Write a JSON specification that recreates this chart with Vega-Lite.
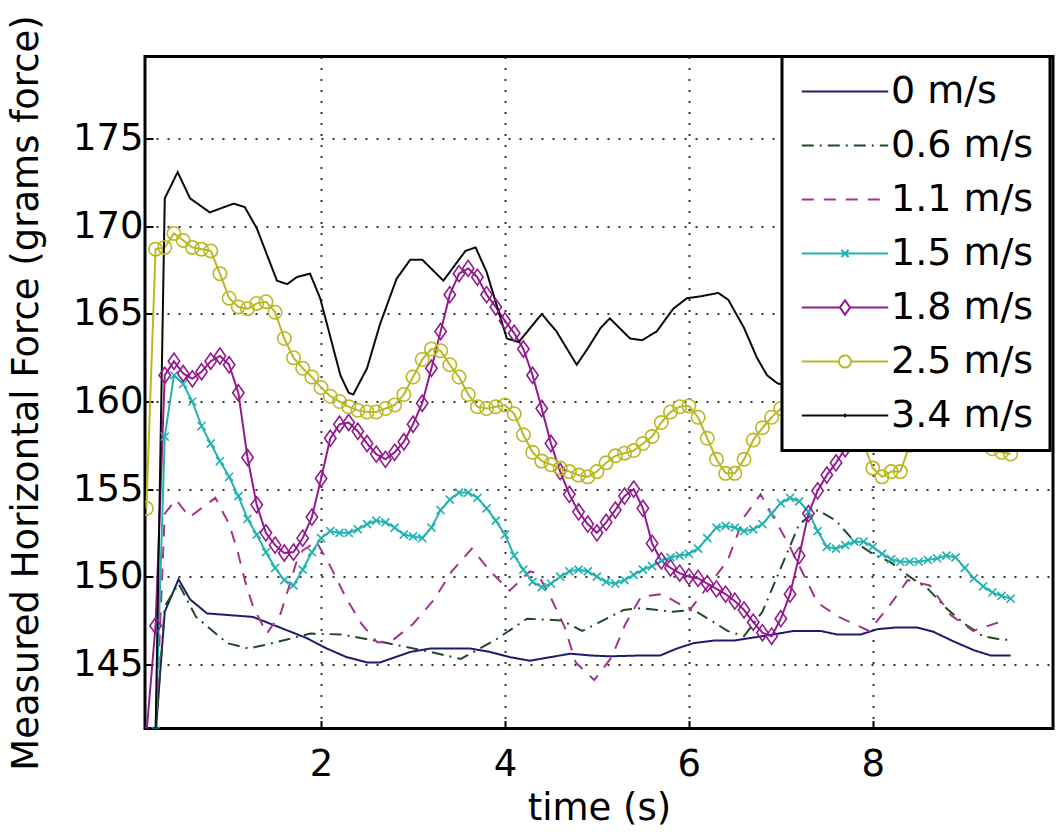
{
"$schema": "https://vega.github.io/schema/vega-lite/v6.json",
"width": 908, "height": 672,
"autosize": "none",
"padding": {"left": 145, "top": 56.5, "right": 9, "bottom": 105.5},
"background": "#ffffff",
"config": {
  "view": {"stroke": "#000000", "strokeWidth": 3},
  "font": "DejaVu Sans",
  "axis": {"labelFont": "DejaVu Sans", "titleFont": "DejaVu Sans", "labelFontSize": 37, "titleFontSize": 37, "titleFontWeight": "normal", "labelColor": "#000000", "titleColor": "#000000", "domain": false, "grid": true, "gridColor": "#333333", "gridDash": [2, 9], "gridWidth": 2, "gridOpacity": 1, "ticks": true, "tickSize": -8, "tickColor": "#000000", "tickWidth": 2}
},
"data": {"values": [
{"speed":"0 m/s","t":0.2,"f":141.0},{"speed":"0 m/s","t":0.3,"f":148.0},{"speed":"0 m/s","t":0.45,"f":149.85},{"speed":"0 m/s","t":0.575,"f":148.7},{"speed":"0 m/s","t":0.76,"f":147.9},{"speed":"0 m/s","t":1.01,"f":147.8},{"speed":"0 m/s","t":1.26,"f":147.7},{"speed":"0 m/s","t":1.55,"f":147.1},{"speed":"0 m/s","t":1.84,"f":146.5},{"speed":"0 m/s","t":2.06,"f":145.9},{"speed":"0 m/s","t":2.28,"f":145.4},{"speed":"0 m/s","t":2.5,"f":145.1},{"speed":"0 m/s","t":2.64,"f":145.1},{"speed":"0 m/s","t":2.75,"f":145.3},{"speed":"0 m/s","t":2.97,"f":145.7},{"speed":"0 m/s","t":3.19,"f":145.9},{"speed":"0 m/s","t":3.4,"f":145.9},{"speed":"0 m/s","t":3.62,"f":145.9},{"speed":"0 m/s","t":3.84,"f":145.7},{"speed":"0 m/s","t":4.06,"f":145.4},{"speed":"0 m/s","t":4.27,"f":145.2},{"speed":"0 m/s","t":4.49,"f":145.4},{"speed":"0 m/s","t":4.71,"f":145.6},{"speed":"0 m/s","t":4.93,"f":145.5},{"speed":"0 m/s","t":5.14,"f":145.45},{"speed":"0 m/s","t":5.47,"f":145.5},{"speed":"0 m/s","t":5.69,"f":145.5},{"speed":"0 m/s","t":5.87,"f":145.9},{"speed":"0 m/s","t":6.05,"f":146.2},{"speed":"0 m/s","t":6.27,"f":146.35},{"speed":"0 m/s","t":6.49,"f":146.35},{"speed":"0 m/s","t":6.67,"f":146.5},{"speed":"0 m/s","t":6.92,"f":146.7},{"speed":"0 m/s","t":7.14,"f":146.9},{"speed":"0 m/s","t":7.43,"f":146.9},{"speed":"0 m/s","t":7.61,"f":146.7},{"speed":"0 m/s","t":7.87,"f":146.7},{"speed":"0 m/s","t":8.05,"f":147.0},{"speed":"0 m/s","t":8.26,"f":147.1},{"speed":"0 m/s","t":8.48,"f":147.1},{"speed":"0 m/s","t":8.66,"f":146.85},{"speed":"0 m/s","t":8.88,"f":146.3},{"speed":"0 m/s","t":9.1,"f":145.8},{"speed":"0 m/s","t":9.28,"f":145.5},{"speed":"0 m/s","t":9.5,"f":145.5},
{"speed":"0.6 m/s","t":0.2,"f":141.0},{"speed":"0.6 m/s","t":0.3,"f":148.3},{"speed":"0.6 m/s","t":0.45,"f":149.6},{"speed":"0.6 m/s","t":0.64,"f":147.7},{"speed":"0.6 m/s","t":0.98,"f":146.2},{"speed":"0.6 m/s","t":1.21,"f":145.9},{"speed":"0.6 m/s","t":1.39,"f":146.1},{"speed":"0.6 m/s","t":1.62,"f":146.4},{"speed":"0.6 m/s","t":1.88,"f":146.75},{"speed":"0.6 m/s","t":2.22,"f":146.7},{"speed":"0.6 m/s","t":2.63,"f":146.3},{"speed":"0.6 m/s","t":3.19,"f":145.7},{"speed":"0.6 m/s","t":3.52,"f":145.3},{"speed":"0.6 m/s","t":3.9,"f":146.4},{"speed":"0.6 m/s","t":4.24,"f":147.6},{"speed":"0.6 m/s","t":4.62,"f":147.5},{"speed":"0.6 m/s","t":4.84,"f":146.9},{"speed":"0.6 m/s","t":5.03,"f":147.4},{"speed":"0.6 m/s","t":5.29,"f":148.1},{"speed":"0.6 m/s","t":5.48,"f":148.2},{"speed":"0.6 m/s","t":5.82,"f":148.0},{"speed":"0.6 m/s","t":6.05,"f":148.1},{"speed":"0.6 m/s","t":6.27,"f":147.4},{"speed":"0.6 m/s","t":6.42,"f":146.9},{"speed":"0.6 m/s","t":6.6,"f":146.6},{"speed":"0.6 m/s","t":6.8,"f":148.0},{"speed":"0.6 m/s","t":7.0,"f":150.5},{"speed":"0.6 m/s","t":7.2,"f":153.0},{"speed":"0.6 m/s","t":7.4,"f":153.8},{"speed":"0.6 m/s","t":7.6,"f":153.2},{"speed":"0.6 m/s","t":7.8,"f":152.0},{"speed":"0.6 m/s","t":8.0,"f":151.3},{"speed":"0.6 m/s","t":8.2,"f":150.8},{"speed":"0.6 m/s","t":8.4,"f":150.0},{"speed":"0.6 m/s","t":8.6,"f":149.3},{"speed":"0.6 m/s","t":8.8,"f":148.2},{"speed":"0.6 m/s","t":9.0,"f":147.3},{"speed":"0.6 m/s","t":9.2,"f":146.6},{"speed":"0.6 m/s","t":9.4,"f":146.4},{"speed":"0.6 m/s","t":9.5,"f":146.4},
{"speed":"1.1 m/s","t":0.2,"f":141.0},{"speed":"1.1 m/s","t":0.3,"f":153.6},{"speed":"1.1 m/s","t":0.42,"f":154.4},{"speed":"1.1 m/s","t":0.57,"f":153.4},{"speed":"1.1 m/s","t":0.85,"f":154.5},{"speed":"1.1 m/s","t":1.0,"f":153.0},{"speed":"1.1 m/s","t":1.09,"f":151.5},{"speed":"1.1 m/s","t":1.17,"f":149.8},{"speed":"1.1 m/s","t":1.26,"f":148.3},{"speed":"1.1 m/s","t":1.41,"f":146.75},{"speed":"1.1 m/s","t":1.56,"f":147.9},{"speed":"1.1 m/s","t":1.65,"f":149.4},{"speed":"1.1 m/s","t":1.73,"f":150.8},{"speed":"1.1 m/s","t":1.8,"f":151.5},{"speed":"1.1 m/s","t":1.95,"f":152.0},{"speed":"1.1 m/s","t":2.1,"f":150.6},{"speed":"1.1 m/s","t":2.27,"f":148.8},{"speed":"1.1 m/s","t":2.44,"f":147.3},{"speed":"1.1 m/s","t":2.61,"f":146.25},{"speed":"1.1 m/s","t":2.75,"f":146.25},{"speed":"1.1 m/s","t":3.0,"f":147.3},{"speed":"1.1 m/s","t":3.23,"f":148.7},{"speed":"1.1 m/s","t":3.42,"f":150.3},{"speed":"1.1 m/s","t":3.64,"f":151.6},{"speed":"1.1 m/s","t":3.84,"f":150.3},{"speed":"1.1 m/s","t":4.05,"f":149.2},{"speed":"1.1 m/s","t":4.27,"f":150.3},{"speed":"1.1 m/s","t":4.35,"f":150.2},{"speed":"1.1 m/s","t":4.49,"f":148.9},{"speed":"1.1 m/s","t":4.65,"f":147.1},{"speed":"1.1 m/s","t":4.77,"f":145.1},{"speed":"1.1 m/s","t":4.97,"f":144.1},{"speed":"1.1 m/s","t":5.16,"f":145.4},{"speed":"1.1 m/s","t":5.31,"f":147.3},{"speed":"1.1 m/s","t":5.48,"f":148.85},{"speed":"1.1 m/s","t":5.71,"f":149.0},{"speed":"1.1 m/s","t":6.01,"f":148.1},{"speed":"1.1 m/s","t":6.42,"f":150.9},{"speed":"1.1 m/s","t":6.6,"f":153.4},{"speed":"1.1 m/s","t":6.78,"f":154.7},{"speed":"1.1 m/s","t":7.08,"f":151.9},{"speed":"1.1 m/s","t":7.4,"f":148.5},{"speed":"1.1 m/s","t":7.63,"f":147.7},{"speed":"1.1 m/s","t":7.96,"f":146.9},{"speed":"1.1 m/s","t":8.19,"f":148.4},{"speed":"1.1 m/s","t":8.38,"f":149.8},{"speed":"1.1 m/s","t":8.62,"f":149.5},{"speed":"1.1 m/s","t":8.85,"f":147.8},{"speed":"1.1 m/s","t":9.09,"f":146.9},{"speed":"1.1 m/s","t":9.43,"f":147.5},
{"speed":"1.5 m/s","t":0.1,"f":141.0},{"speed":"1.5 m/s","t":0.2,"f":141.2},{"speed":"1.5 m/s","t":0.3,"f":158.0},{"speed":"1.5 m/s","t":0.4,"f":161.5},{"speed":"1.5 m/s","t":0.5,"f":161.0},{"speed":"1.5 m/s","t":0.6,"f":160.0},{"speed":"1.5 m/s","t":0.7,"f":158.6},{"speed":"1.5 m/s","t":0.8,"f":157.6},{"speed":"1.5 m/s","t":0.9,"f":156.6},{"speed":"1.5 m/s","t":1.0,"f":155.7},{"speed":"1.5 m/s","t":1.1,"f":154.6},{"speed":"1.5 m/s","t":1.2,"f":153.3},{"speed":"1.5 m/s","t":1.3,"f":152.4},{"speed":"1.5 m/s","t":1.4,"f":151.4},{"speed":"1.5 m/s","t":1.5,"f":150.5},{"speed":"1.5 m/s","t":1.6,"f":149.8},{"speed":"1.5 m/s","t":1.7,"f":149.5},{"speed":"1.5 m/s","t":1.8,"f":150.4},{"speed":"1.5 m/s","t":1.9,"f":151.4},{"speed":"1.5 m/s","t":2.0,"f":152.2},{"speed":"1.5 m/s","t":2.1,"f":152.6},{"speed":"1.5 m/s","t":2.2,"f":152.5},{"speed":"1.5 m/s","t":2.3,"f":152.5},{"speed":"1.5 m/s","t":2.4,"f":152.7},{"speed":"1.5 m/s","t":2.5,"f":153.0},{"speed":"1.5 m/s","t":2.6,"f":153.2},{"speed":"1.5 m/s","t":2.7,"f":153.1},{"speed":"1.5 m/s","t":2.8,"f":152.8},{"speed":"1.5 m/s","t":2.9,"f":152.4},{"speed":"1.5 m/s","t":3.0,"f":152.3},{"speed":"1.5 m/s","t":3.1,"f":152.2},{"speed":"1.5 m/s","t":3.2,"f":152.8},{"speed":"1.5 m/s","t":3.3,"f":153.8},{"speed":"1.5 m/s","t":3.4,"f":154.4},{"speed":"1.5 m/s","t":3.5,"f":154.8},{"speed":"1.5 m/s","t":3.6,"f":154.8},{"speed":"1.5 m/s","t":3.7,"f":154.5},{"speed":"1.5 m/s","t":3.8,"f":153.9},{"speed":"1.5 m/s","t":3.9,"f":153.2},{"speed":"1.5 m/s","t":4.0,"f":152.4},{"speed":"1.5 m/s","t":4.1,"f":151.2},{"speed":"1.5 m/s","t":4.2,"f":150.4},{"speed":"1.5 m/s","t":4.3,"f":149.7},{"speed":"1.5 m/s","t":4.4,"f":149.4},{"speed":"1.5 m/s","t":4.5,"f":149.6},{"speed":"1.5 m/s","t":4.6,"f":150.0},{"speed":"1.5 m/s","t":4.7,"f":150.3},{"speed":"1.5 m/s","t":4.8,"f":150.4},{"speed":"1.5 m/s","t":4.9,"f":150.3},{"speed":"1.5 m/s","t":5.0,"f":150.0},{"speed":"1.5 m/s","t":5.1,"f":149.7},{"speed":"1.5 m/s","t":5.2,"f":149.6},{"speed":"1.5 m/s","t":5.3,"f":149.8},{"speed":"1.5 m/s","t":5.4,"f":150.1},{"speed":"1.5 m/s","t":5.5,"f":150.4},{"speed":"1.5 m/s","t":5.6,"f":150.6},{"speed":"1.5 m/s","t":5.7,"f":150.9},{"speed":"1.5 m/s","t":5.8,"f":151.1},{"speed":"1.5 m/s","t":5.9,"f":151.2},{"speed":"1.5 m/s","t":6.0,"f":151.3},{"speed":"1.5 m/s","t":6.1,"f":151.6},{"speed":"1.5 m/s","t":6.2,"f":152.2},{"speed":"1.5 m/s","t":6.3,"f":152.8},{"speed":"1.5 m/s","t":6.4,"f":152.9},{"speed":"1.5 m/s","t":6.5,"f":152.8},{"speed":"1.5 m/s","t":6.6,"f":152.6},{"speed":"1.5 m/s","t":6.7,"f":152.7},{"speed":"1.5 m/s","t":6.8,"f":153.0},{"speed":"1.5 m/s","t":6.9,"f":153.6},{"speed":"1.5 m/s","t":7.0,"f":154.2},{"speed":"1.5 m/s","t":7.1,"f":154.5},{"speed":"1.5 m/s","t":7.2,"f":154.3},{"speed":"1.5 m/s","t":7.3,"f":153.7},{"speed":"1.5 m/s","t":7.4,"f":152.6},{"speed":"1.5 m/s","t":7.5,"f":151.7},{"speed":"1.5 m/s","t":7.6,"f":151.6},{"speed":"1.5 m/s","t":7.7,"f":151.8},{"speed":"1.5 m/s","t":7.8,"f":152.0},{"speed":"1.5 m/s","t":7.9,"f":152.0},{"speed":"1.5 m/s","t":8.0,"f":151.7},{"speed":"1.5 m/s","t":8.1,"f":151.3},{"speed":"1.5 m/s","t":8.2,"f":151.0},{"speed":"1.5 m/s","t":8.3,"f":150.85},{"speed":"1.5 m/s","t":8.4,"f":150.85},{"speed":"1.5 m/s","t":8.5,"f":150.85},{"speed":"1.5 m/s","t":8.6,"f":150.95},{"speed":"1.5 m/s","t":8.7,"f":151.05},{"speed":"1.5 m/s","t":8.8,"f":151.2},{"speed":"1.5 m/s","t":8.9,"f":151.1},{"speed":"1.5 m/s","t":9.0,"f":150.5},{"speed":"1.5 m/s","t":9.1,"f":149.9},{"speed":"1.5 m/s","t":9.2,"f":149.45},{"speed":"1.5 m/s","t":9.3,"f":149.1},{"speed":"1.5 m/s","t":9.4,"f":148.9},{"speed":"1.5 m/s","t":9.5,"f":148.75},
{"speed":"1.8 m/s","t":0.1,"f":141.0},{"speed":"1.8 m/s","t":0.2,"f":147.2},{"speed":"1.8 m/s","t":0.3,"f":161.5},{"speed":"1.8 m/s","t":0.4,"f":162.3},{"speed":"1.8 m/s","t":0.5,"f":161.6},{"speed":"1.8 m/s","t":0.6,"f":161.3},{"speed":"1.8 m/s","t":0.7,"f":161.7},{"speed":"1.8 m/s","t":0.8,"f":162.3},{"speed":"1.8 m/s","t":0.9,"f":162.6},{"speed":"1.8 m/s","t":1.0,"f":162.1},{"speed":"1.8 m/s","t":1.1,"f":160.5},{"speed":"1.8 m/s","t":1.2,"f":156.8},{"speed":"1.8 m/s","t":1.3,"f":154.1},{"speed":"1.8 m/s","t":1.4,"f":152.5},{"speed":"1.8 m/s","t":1.5,"f":151.8},{"speed":"1.8 m/s","t":1.6,"f":151.35},{"speed":"1.8 m/s","t":1.7,"f":151.4},{"speed":"1.8 m/s","t":1.8,"f":152.2},{"speed":"1.8 m/s","t":1.9,"f":153.4},{"speed":"1.8 m/s","t":2.0,"f":155.6},{"speed":"1.8 m/s","t":2.1,"f":157.9},{"speed":"1.8 m/s","t":2.2,"f":158.7},{"speed":"1.8 m/s","t":2.3,"f":158.8},{"speed":"1.8 m/s","t":2.4,"f":158.3},{"speed":"1.8 m/s","t":2.5,"f":157.6},{"speed":"1.8 m/s","t":2.6,"f":157.0},{"speed":"1.8 m/s","t":2.7,"f":156.7},{"speed":"1.8 m/s","t":2.8,"f":157.1},{"speed":"1.8 m/s","t":2.9,"f":157.7},{"speed":"1.8 m/s","t":3.0,"f":158.7},{"speed":"1.8 m/s","t":3.1,"f":159.9},{"speed":"1.8 m/s","t":3.2,"f":161.9},{"speed":"1.8 m/s","t":3.3,"f":164.0},{"speed":"1.8 m/s","t":3.4,"f":166.1},{"speed":"1.8 m/s","t":3.5,"f":167.3},{"speed":"1.8 m/s","t":3.6,"f":167.6},{"speed":"1.8 m/s","t":3.7,"f":167.1},{"speed":"1.8 m/s","t":3.8,"f":166.1},{"speed":"1.8 m/s","t":3.9,"f":165.4},{"speed":"1.8 m/s","t":4.0,"f":164.6},{"speed":"1.8 m/s","t":4.1,"f":163.9},{"speed":"1.8 m/s","t":4.2,"f":163.0},{"speed":"1.8 m/s","t":4.3,"f":161.5},{"speed":"1.8 m/s","t":4.4,"f":159.6},{"speed":"1.8 m/s","t":4.5,"f":157.6},{"speed":"1.8 m/s","t":4.6,"f":156.0},{"speed":"1.8 m/s","t":4.7,"f":154.7},{"speed":"1.8 m/s","t":4.8,"f":153.7},{"speed":"1.8 m/s","t":4.9,"f":153.0},{"speed":"1.8 m/s","t":5.0,"f":152.5},{"speed":"1.8 m/s","t":5.1,"f":153.1},{"speed":"1.8 m/s","t":5.2,"f":153.8},{"speed":"1.8 m/s","t":5.3,"f":154.6},{"speed":"1.8 m/s","t":5.4,"f":155.0},{"speed":"1.8 m/s","t":5.5,"f":153.9},{"speed":"1.8 m/s","t":5.6,"f":151.9},{"speed":"1.8 m/s","t":5.7,"f":150.9},{"speed":"1.8 m/s","t":5.8,"f":150.5},{"speed":"1.8 m/s","t":5.9,"f":150.2},{"speed":"1.8 m/s","t":6.0,"f":150.0},{"speed":"1.8 m/s","t":6.1,"f":149.9},{"speed":"1.8 m/s","t":6.2,"f":149.6},{"speed":"1.8 m/s","t":6.3,"f":149.3},{"speed":"1.8 m/s","t":6.4,"f":149.0},{"speed":"1.8 m/s","t":6.5,"f":148.6},{"speed":"1.8 m/s","t":6.6,"f":148.1},{"speed":"1.8 m/s","t":6.7,"f":147.4},{"speed":"1.8 m/s","t":6.8,"f":146.8},{"speed":"1.8 m/s","t":6.9,"f":146.6},{"speed":"1.8 m/s","t":7.0,"f":147.6},{"speed":"1.8 m/s","t":7.1,"f":149.0},{"speed":"1.8 m/s","t":7.2,"f":151.2},{"speed":"1.8 m/s","t":7.3,"f":153.6},{"speed":"1.8 m/s","t":7.4,"f":154.9},{"speed":"1.8 m/s","t":7.5,"f":155.8},{"speed":"1.8 m/s","t":7.6,"f":156.5},{"speed":"1.8 m/s","t":7.7,"f":157.3},{"speed":"1.8 m/s","t":7.8,"f":158.5},{"speed":"1.8 m/s","t":7.9,"f":159.8},
{"speed":"2.5 m/s","t":0.1,"f":153.9},{"speed":"2.5 m/s","t":0.2,"f":168.7},{"speed":"2.5 m/s","t":0.3,"f":168.8},{"speed":"2.5 m/s","t":0.4,"f":169.6},{"speed":"2.5 m/s","t":0.5,"f":169.2},{"speed":"2.5 m/s","t":0.6,"f":168.8},{"speed":"2.5 m/s","t":0.7,"f":168.7},{"speed":"2.5 m/s","t":0.8,"f":168.6},{"speed":"2.5 m/s","t":0.9,"f":167.3},{"speed":"2.5 m/s","t":1.0,"f":165.9},{"speed":"2.5 m/s","t":1.1,"f":165.4},{"speed":"2.5 m/s","t":1.2,"f":165.3},{"speed":"2.5 m/s","t":1.3,"f":165.6},{"speed":"2.5 m/s","t":1.4,"f":165.7},{"speed":"2.5 m/s","t":1.5,"f":165.1},{"speed":"2.5 m/s","t":1.6,"f":163.6},{"speed":"2.5 m/s","t":1.7,"f":162.5},{"speed":"2.5 m/s","t":1.8,"f":161.9},{"speed":"2.5 m/s","t":1.9,"f":161.4},{"speed":"2.5 m/s","t":2.0,"f":160.8},{"speed":"2.5 m/s","t":2.1,"f":160.3},{"speed":"2.5 m/s","t":2.2,"f":160.0},{"speed":"2.5 m/s","t":2.3,"f":159.7},{"speed":"2.5 m/s","t":2.4,"f":159.5},{"speed":"2.5 m/s","t":2.5,"f":159.4},{"speed":"2.5 m/s","t":2.6,"f":159.4},{"speed":"2.5 m/s","t":2.7,"f":159.6},{"speed":"2.5 m/s","t":2.8,"f":159.8},{"speed":"2.5 m/s","t":2.9,"f":160.4},{"speed":"2.5 m/s","t":3.0,"f":161.4},{"speed":"2.5 m/s","t":3.1,"f":162.4},{"speed":"2.5 m/s","t":3.2,"f":163.0},{"speed":"2.5 m/s","t":3.3,"f":162.9},{"speed":"2.5 m/s","t":3.4,"f":162.1},{"speed":"2.5 m/s","t":3.5,"f":161.4},{"speed":"2.5 m/s","t":3.6,"f":160.4},{"speed":"2.5 m/s","t":3.7,"f":159.7},{"speed":"2.5 m/s","t":3.8,"f":159.6},{"speed":"2.5 m/s","t":3.9,"f":159.7},{"speed":"2.5 m/s","t":4.0,"f":159.8},{"speed":"2.5 m/s","t":4.1,"f":159.3},{"speed":"2.5 m/s","t":4.2,"f":158.1},{"speed":"2.5 m/s","t":4.3,"f":157.1},{"speed":"2.5 m/s","t":4.4,"f":156.6},{"speed":"2.5 m/s","t":4.5,"f":156.4},{"speed":"2.5 m/s","t":4.6,"f":156.2},{"speed":"2.5 m/s","t":4.7,"f":156.0},{"speed":"2.5 m/s","t":4.8,"f":155.8},{"speed":"2.5 m/s","t":4.9,"f":155.7},{"speed":"2.5 m/s","t":5.0,"f":156.0},{"speed":"2.5 m/s","t":5.1,"f":156.5},{"speed":"2.5 m/s","t":5.2,"f":156.9},{"speed":"2.5 m/s","t":5.3,"f":157.05},{"speed":"2.5 m/s","t":5.4,"f":157.2},{"speed":"2.5 m/s","t":5.5,"f":157.6},{"speed":"2.5 m/s","t":5.6,"f":158.0},{"speed":"2.5 m/s","t":5.7,"f":158.8},{"speed":"2.5 m/s","t":5.8,"f":159.4},{"speed":"2.5 m/s","t":5.9,"f":159.7},{"speed":"2.5 m/s","t":6.0,"f":159.75},{"speed":"2.5 m/s","t":6.1,"f":159.1},{"speed":"2.5 m/s","t":6.2,"f":157.9},{"speed":"2.5 m/s","t":6.3,"f":156.7},{"speed":"2.5 m/s","t":6.4,"f":155.9},{"speed":"2.5 m/s","t":6.5,"f":155.9},{"speed":"2.5 m/s","t":6.6,"f":156.7},{"speed":"2.5 m/s","t":6.7,"f":157.8},{"speed":"2.5 m/s","t":6.8,"f":158.5},{"speed":"2.5 m/s","t":6.9,"f":159.1},{"speed":"2.5 m/s","t":7.0,"f":159.6},{"speed":"2.5 m/s","t":7.1,"f":160.0},{"speed":"2.5 m/s","t":7.2,"f":160.1},{"speed":"2.5 m/s","t":7.3,"f":159.8},{"speed":"2.5 m/s","t":7.4,"f":159.3},{"speed":"2.5 m/s","t":7.5,"f":158.8},{"speed":"2.5 m/s","t":7.6,"f":158.4},{"speed":"2.5 m/s","t":7.7,"f":158.0},{"speed":"2.5 m/s","t":7.8,"f":157.8},{"speed":"2.5 m/s","t":7.9,"f":157.6},{"speed":"2.5 m/s","t":8.0,"f":156.2},{"speed":"2.5 m/s","t":8.1,"f":155.7},{"speed":"2.5 m/s","t":8.2,"f":156.0},{"speed":"2.5 m/s","t":8.3,"f":156.0},{"speed":"2.5 m/s","t":8.4,"f":157.5},{"speed":"2.5 m/s","t":8.5,"f":158.0},{"speed":"2.5 m/s","t":8.6,"f":158.3},{"speed":"2.5 m/s","t":8.7,"f":158.5},{"speed":"2.5 m/s","t":8.8,"f":158.5},{"speed":"2.5 m/s","t":8.9,"f":158.4},{"speed":"2.5 m/s","t":9.0,"f":158.2},{"speed":"2.5 m/s","t":9.1,"f":157.9},{"speed":"2.5 m/s","t":9.2,"f":157.6},{"speed":"2.5 m/s","t":9.3,"f":157.3},{"speed":"2.5 m/s","t":9.4,"f":157.1},{"speed":"2.5 m/s","t":9.5,"f":157.0},
{"speed":"3.4 m/s","t":0.2,"f":141.0},{"speed":"3.4 m/s","t":0.3,"f":171.6},{"speed":"3.4 m/s","t":0.44,"f":173.1},{"speed":"3.4 m/s","t":0.575,"f":171.6},{"speed":"3.4 m/s","t":0.79,"f":170.8},{"speed":"3.4 m/s","t":1.05,"f":171.3},{"speed":"3.4 m/s","t":1.17,"f":171.1},{"speed":"3.4 m/s","t":1.3,"f":169.9},{"speed":"3.4 m/s","t":1.52,"f":166.9},{"speed":"3.4 m/s","t":1.63,"f":166.7},{"speed":"3.4 m/s","t":1.735,"f":167.1},{"speed":"3.4 m/s","t":1.88,"f":167.3},{"speed":"3.4 m/s","t":1.99,"f":165.9},{"speed":"3.4 m/s","t":2.21,"f":161.5},{"speed":"3.4 m/s","t":2.3,"f":160.5},{"speed":"3.4 m/s","t":2.35,"f":160.4},{"speed":"3.4 m/s","t":2.5,"f":161.9},{"speed":"3.4 m/s","t":2.64,"f":164.4},{"speed":"3.4 m/s","t":2.82,"f":167.0},{"speed":"3.4 m/s","t":2.97,"f":168.1},{"speed":"3.4 m/s","t":3.1,"f":168.1},{"speed":"3.4 m/s","t":3.33,"f":166.9},{"speed":"3.4 m/s","t":3.57,"f":168.6},{"speed":"3.4 m/s","t":3.68,"f":168.8},{"speed":"3.4 m/s","t":3.8,"f":167.4},{"speed":"3.4 m/s","t":4.02,"f":163.6},{"speed":"3.4 m/s","t":4.15,"f":163.4},{"speed":"3.4 m/s","t":4.4,"f":165.0},{"speed":"3.4 m/s","t":4.56,"f":164.0},{"speed":"3.4 m/s","t":4.78,"f":162.1},{"speed":"3.4 m/s","t":4.89,"f":162.95},{"speed":"3.4 m/s","t":5.04,"f":164.2},{"speed":"3.4 m/s","t":5.14,"f":164.75},{"speed":"3.4 m/s","t":5.36,"f":163.6},{"speed":"3.4 m/s","t":5.49,"f":163.5},{"speed":"3.4 m/s","t":5.65,"f":164.0},{"speed":"3.4 m/s","t":5.83,"f":165.3},{"speed":"3.4 m/s","t":5.98,"f":165.9},{"speed":"3.4 m/s","t":6.12,"f":166.0},{"speed":"3.4 m/s","t":6.32,"f":166.2},{"speed":"3.4 m/s","t":6.43,"f":165.8},{"speed":"3.4 m/s","t":6.6,"f":164.2},{"speed":"3.4 m/s","t":6.74,"f":162.5},{"speed":"3.4 m/s","t":6.85,"f":161.5},{"speed":"3.4 m/s","t":6.96,"f":161.05},{"speed":"3.4 m/s","t":7.1,"f":160.8},{"speed":"3.4 m/s","t":7.3,"f":160.9}
]},
"encoding": {
  "x": {"field": "t", "type": "quantitative", "scale": {"domain": [0.085, 9.96], "nice": false, "zero": false},
        "axis": {"values": [2, 4, 6, 8], "title": "time (s)", "labelPadding": 26, "titlePadding": 8, "labelFlush": false}},
  "y": {"field": "f", "type": "quantitative", "scale": {"domain": [141.33, 179.7], "nice": false, "zero": false},
        "axis": {"values": [145, 150, 155, 160, 165, 170, 175], "title": "Measured Horizontal Force (grams force)", "labelPadding": 10, "titlePadding": 27}},
  "color": {"field": "speed", "type": "nominal",
    "scale": {"domain": ["0 m/s", "0.6 m/s", "1.1 m/s", "1.5 m/s", "1.8 m/s", "2.5 m/s", "3.4 m/s"],
              "range": ["#1c1c6e", "#1f4a24", "#a0368c", "#22b2b0", "#93198f", "#b9b824", "#0a0a0a"]},
    "legend": {"orient": "none", "legendX": 637, "legendY": 0, "title": null, "symbolSize": 144, "symbolStrokeWidth": 2, "symbolOffset": 28,
               "labelFontSize": 38, "labelFont": "DejaVu Sans", "labelColor": "#000000", "labelOffset": 27, "padding": 16, "rowPadding": 16,
               "fillColor": "#ffffff", "strokeColor": "#000000", "zindex": 1, "labelLimit": 400,
               "encode": {"legend": {"update": {"strokeWidth": {"value": 3}}},
                          "symbols": {"update": {"fill": {"value": "transparent"}, "opacity": {"value": 1},
                            "shape": {"signal": "datum.value === '1.5 m/s' ? 'M-7.2,0L7.2,0M-0.6,-0.6L0.6,0.6M-0.6,0.6L0.6,-0.6' : datum.value === '1.8 m/s' ? 'M-7.2,0L-0.85,0M0.85,0L7.2,0M-0.85,0L0,-1.2L0.85,0L0,1.2Z' : datum.value === '2.5 m/s' ? 'M-7.2,0L-1,0M1,0L7.2,0M-1,0A1,1,0,1,0,1,0A1,1,0,1,0,-1,0' : datum.value === '3.4 m/s' ? 'M-7.2,0L7.2,0M0,-0.3L0,0.3' : 'M-7.2,0L7.2,0'"}}}}}}
},
"layer": [
  {"mark": {"type": "line", "strokeWidth": 2, "clip": true},
   "encoding": {
     "strokeDash": {"field": "speed", "type": "nominal",
       "scale": {"domain": ["0 m/s", "0.6 m/s", "1.1 m/s", "1.5 m/s", "1.8 m/s", "2.5 m/s", "3.4 m/s"],
                 "range": [[1, 0], [12, 6, 2, 6], [12, 10], [1, 0], [1, 0], [1, 0], [1, 0]]},
       "legend": {"orient": "none", "legendX": 637, "legendY": 0, "title": null, "symbolSize": 144, "symbolStrokeWidth": 2, "symbolOffset": 28,
               "labelFontSize": 38, "labelFont": "DejaVu Sans", "labelColor": "#000000", "labelOffset": 27, "padding": 16, "rowPadding": 16,
               "fillColor": "#ffffff", "strokeColor": "#000000", "zindex": 1, "labelLimit": 400}}
   }},
  {"transform": [{"filter": {"field": "speed", "oneOf": ["1.5 m/s", "1.8 m/s", "2.5 m/s"]}}],
   "mark": {"type": "point", "filled": false, "size": 180, "strokeWidth": 1.6, "opacity": 1, "clip": true},
   "encoding": {
     "shape": {"field": "speed", "type": "nominal",
       "scale": {"domain": ["1.5 m/s", "1.8 m/s", "2.5 m/s"], "range": ["M-0.6,-0.6L0.6,0.6M-0.6,0.6L0.6,-0.6", "M0,-1.2L0.85,0L0,1.2L-0.85,0Z", "circle"]},
       "legend": null}
   }}
]
}
